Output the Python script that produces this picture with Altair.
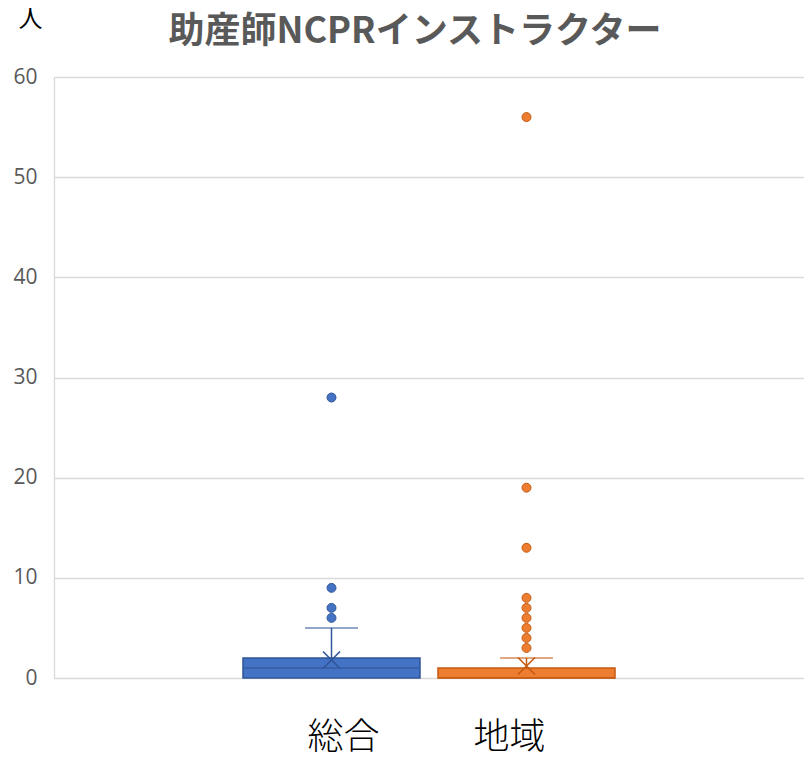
import altair as alt
import pandas as pd

categories = ["総合", "地域"]
q1 = [0, 0]
median = [1, 0]
q3 = [2, 1]
whisker_high = [5, 2]
mean = [1.8, 1.2]
outliers_sogo = [6, 7, 9, 28]
outliers_chiiki = [3, 4, 5, 6, 7, 8, 13, 19, 56]

fills = ["#4472C4", "#ED7D31"]
strokes = ["#2F5597", "#C55A11"]

FONT = "Noto Sans CJK JP"

box_df = pd.DataFrame({
    "cat": categories, "q1": q1, "median": median, "q3": q3,
    "whi": whisker_high, "mean": mean,
})
out_df = pd.DataFrame({
    "cat": [categories[0]] * len(outliers_sogo) + [categories[1]] * len(outliers_chiiki),
    "v": outliers_sogo + outliers_chiiki,
})

x_enc = alt.X(
    "cat:N",
    scale=alt.Scale(type="band", domain=categories, paddingInner=0.15385, paddingOuter=1),
    axis=alt.Axis(
        title=None, domain=False, ticks=False, labelAngle=0,
        labelFont=FONT, labelFontSize=36, labelFontWeight=300, labelColor="#000000",
        labelPadding=42, labelBaseline="top",
        labelOffset={"condition": {"test": "datum.value == '総合'", "value": 12}, "value": -17},
    ),
)
fill_enc = alt.Fill("cat:N", scale=alt.Scale(domain=categories, range=fills), legend=None)
stroke_enc = alt.Stroke("cat:N", scale=alt.Scale(domain=categories, range=strokes), legend=None)
color_enc = alt.Color("cat:N", scale=alt.Scale(domain=categories, range=strokes), legend=None)

y_scale = alt.Scale(domain=[0, 60], nice=False)
y_axis = alt.Axis(
    values=[0, 10, 20, 30, 40, 50, 60], grid=True, gridColor="#d9d9d9", gridWidth=1.3,
    domain=True, domainColor="#d9d9d9", domainWidth=1.3, ticks=False,
    labelFont="Open Sans", labelFontSize=21, labelColor="#595959", labelPadding=17,
    title="人", titleAngle=0, titleX=-24, titleY=-58, titleAlign="center",
    titleBaseline="middle", titleFont=FONT, titleFontSize=24, titleFontWeight="normal",
    titleColor="#000000",
)

base = alt.Chart(box_df)

box = base.mark_bar(size=177, strokeWidth=1.5).encode(
    x=x_enc,
    y=alt.Y("q1:Q", scale=y_scale, axis=y_axis),
    y2="q3:Q",
    fill=fill_enc,
    stroke=stroke_enc,
)
med = base.mark_tick(size=177, thickness=1.5).encode(
    x=x_enc, y=alt.Y("median:Q", scale=y_scale), color=color_enc,
)
whisk = base.mark_rule(strokeWidth=1.5).encode(
    x=x_enc, y=alt.Y("q3:Q", scale=y_scale), y2="whi:Q", stroke=stroke_enc,
)
cap = base.mark_tick(size=53, thickness=1.5).encode(
    x=x_enc, y=alt.Y("whi:Q", scale=y_scale), color=color_enc,
)
mean_m = base.mark_point(shape="M-1,-1L1,1M1,-1L-1,1", size=289, filled=False,
                         strokeWidth=1.6, opacity=1).encode(
    x=x_enc, y=alt.Y("mean:Q", scale=y_scale), stroke=stroke_enc,
)
outl = alt.Chart(out_df).mark_circle(size=80, opacity=1, strokeWidth=1).encode(
    x=x_enc, y=alt.Y("v:Q", scale=y_scale), fill=fill_enc, stroke=stroke_enc,
)

chart = alt.layer(box, med, whisk, cap, mean_m, outl).properties(
    width=750, height=601,
    autosize=alt.AutoSizeParams(type="none"),
    padding={"left": 46, "top": 69, "right": 0, "bottom": 80},
    title=alt.TitleParams(
        "助産師NCPRインストラクター", font=FONT, fontSize=36, fontWeight="bold",
        color="#595959", anchor="middle", dx=-14, offset=-44,
    ),
).configure_view(stroke=None).configure(background="white")

chart.save("out.html", embed_options={"renderer": "svg", "actions": False})
